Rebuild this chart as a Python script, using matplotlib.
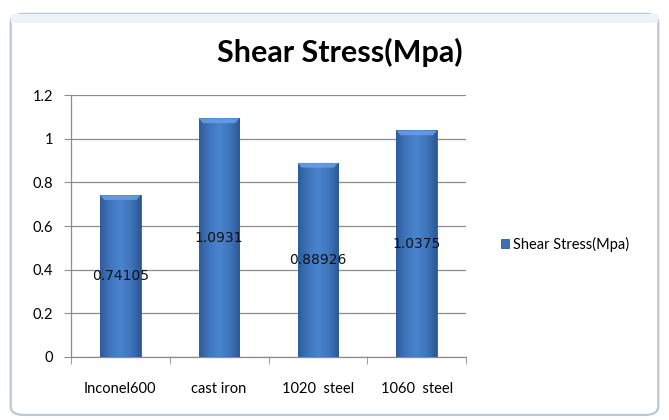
import numpy as np
import matplotlib.pyplot as plt
from matplotlib.patches import FancyBboxPatch, Rectangle, Polygon
from matplotlib.colors import LinearSegmentedColormap

materials = ["Inconel600", "cast iron", "1020  steel", "1060  steel"]
shear_stress = [0.74105, 1.0931, 0.88926, 1.0375]
value_labels = ["0.74105", "1.0931", "0.88926", "1.0375"]
y_ticks = [0, 0.2, 0.4, 0.6, 0.8, 1, 1.2]
y_tick_labels = ["0", "0.2", "0.4", "0.6", "0.8", "1", "1.2"]
series_name = "Shear Stress(Mpa)"

plt.rcParams["font.family"] = ["Lato", "DejaVu Sans"]

fig = plt.figure(figsize=(6.69, 4.20), dpi=100)
fig.patch.set_facecolor("white")

# chart frame
frame = FancyBboxPatch((0.016, 0.012), 0.968, 0.955,
                       boxstyle="round,pad=0,rounding_size=0.02",
                       transform=fig.transFigure, facecolor="white",
                       edgecolor="#b9c9d6", linewidth=1.6, zorder=0)
fig.add_artist(frame)
fig.add_artist(Rectangle((0.016, 0.945), 0.968, 0.022, transform=fig.transFigure,
                         facecolor="#eef3f7", edgecolor="none", zorder=0.5))

ax = fig.add_axes([0.1061, 0.150, 0.5905, 0.6238])
ax.set_facecolor("none")

x = np.arange(len(materials))
bar_w = 0.41
bars = ax.bar(x, shear_stress, width=bar_w, color="#3d70b6",
              edgecolor="#2f5d9c", linewidth=0.6, zorder=3)

# horizontal shading across each bar
shade = LinearSegmentedColormap.from_list(
    "shade", ["#2e5c9c", "#3f75bd", "#4a84cc", "#3f75bd", "#2c5896"])
grad = np.linspace(0, 1, 256).reshape(1, -1)
bevel_h = 0.022
for b in bars:
    x0, w, h = b.get_x(), b.get_width(), b.get_height()
    im = ax.imshow(grad, cmap=shade, aspect="auto",
                   extent=(x0, x0 + w, 0, h), zorder=3.5, interpolation="bicubic")
    im.set_clip_path(b)
    # bevelled top edge
    inset = w * 0.1
    ax.add_patch(Polygon([(x0, h), (x0 + w, h), (x0 + w - inset, h - bevel_h),
                          (x0 + inset, h - bevel_h)], closed=True,
                         facecolor="#66a0e2", edgecolor="none", alpha=0.85,
                         zorder=3.6))

for xi, v, lab in zip(x, shear_stress, value_labels):
    ax.text(xi, v / 2, lab, ha="center", va="center", fontsize=10,
            color="#111111", zorder=5, family=["DejaVu Sans"])

ax.set_xlim(-0.5, len(materials) - 0.5)
ax.set_ylim(0, 1.2)
ax.set_yticks(y_ticks)
ax.set_yticklabels(y_tick_labels)
ax.set_xticks(x)
ax.set_xticklabels(materials)
ax.set_xticks(np.arange(-0.5, len(materials), 1), minor=True)
ax.tick_params(axis="x", which="major", length=0, pad=18, labelsize=10.5)
ax.tick_params(axis="x", which="minor", length=5, color="#8c8c8c", direction="out")
ax.tick_params(axis="y", length=5, color="#8c8c8c", pad=8, labelsize=10.5)

ax.grid(axis="y", color="#8c8c8c", linewidth=0.9, zorder=0)
for s in ["top", "right"]:
    ax.spines[s].set_visible(False)
for s in ["left", "bottom"]:
    ax.spines[s].set_color("#8c8c8c")
    ax.spines[s].set_linewidth(0.9)

fig.text(0.508, 0.874, series_name, ha="center", va="center",
         fontsize=22, fontweight="bold", color="black")

leg = ax.legend([bars[0]], [series_name], loc="center left",
                bbox_to_anchor=(1.055, 0.43), frameon=False, fontsize=10.5,
                handlelength=0.55, handleheight=0.55, handletextpad=0.3)

fig.savefig("out.png", dpi=100, facecolor="white")
